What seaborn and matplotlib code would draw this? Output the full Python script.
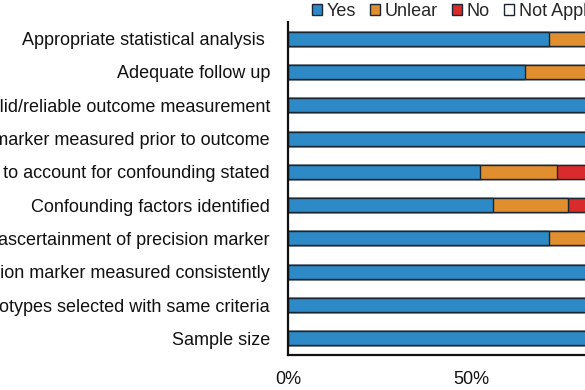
import matplotlib
matplotlib.use("Agg")
import matplotlib.pyplot as plt
import numpy as np
import pandas as pd
import seaborn as sns
from matplotlib.patches import Patch

criteria = [
    "Appropriate statistical analysis ",
    "Adequate follow up",
    "Valid/reliable outcome measurement",
    "Precision marker measured prior to outcome",
    "Method to account for confounding stated",
    "Confounding factors identified",
    "Valid ascertainment of precision marker",
    "Precision marker measured consistently",
    "Phenotypes selected with same criteria",
    "Sample size",
]
yes = [71.4, 64.8, 100, 100, 52.5, 56.1, 71.3, 100, 100, 100]
unclear = [28.6, 35.2, 0, 0, 21.1, 20.3, 28.7, 0, 0, 0]
no = [0, 0, 0, 0, 26.4, 23.6, 0, 0, 0, 0]
not_applicable = [0, 0, 0, 0, 0, 0, 0, 0, 0, 0]

categories = ["Yes", "Unlear", "No", "Not Applicable"]
colors = ["#2E8AC6", "#E08E2E", "#D92B2B", "#FFFFFF"]
edge = "#1B2633"

df = pd.DataFrame({"criterion": criteria, "Yes": yes, "Unlear": unclear,
                   "No": no, "Not Applicable": not_applicable})
cum = df[categories].cumsum(axis=1)
cum["criterion"] = df["criterion"]

sns.set_style("white")
plt.rcParams["font.family"] = ["Liberation Sans", "DejaVu Sans"]

fig = plt.figure(figsize=(5.85, 3.9), dpi=100)
ax = fig.add_axes([288 / 585, 35 / 390, 366 / 585, 333 / 390])

# draw from the back: full stack first, then shorter ones on top
for cat, col in reversed(list(zip(categories, colors))):
    sns.barplot(data=cum, x=cat, y="criterion", orient="h", color=col,
                width=0.42, edgecolor=edge, linewidth=1.0, saturation=1, ax=ax)

ax.set_xlim(0, 100)
ax.set_ylim(9.5, -0.5)
ax.set_xticks([0, 50, 100])
ax.set_xticklabels(["0%", "50%", "100%"])
ax.set_xlabel("")
ax.set_ylabel("")
ax.tick_params(axis="both", length=0, labelsize=13, colors="#111111")
ax.tick_params(axis="y", pad=13)
ax.tick_params(axis="x", pad=11.5)
for s in ["top", "right"]:
    ax.spines[s].set_visible(False)
for s in ["left", "bottom"]:
    ax.spines[s].set_color("#111111")
    ax.spines[s].set_linewidth(1.6)

handles = [Patch(facecolor=c, edgecolor=edge, linewidth=1.0) for c in colors]
fig.legend(handles, categories, loc="center left",
           bbox_to_anchor=(312 / 585, 1 - 11 / 390), ncol=4, frameon=False,
           fontsize=13, handlelength=0.55, handleheight=0.55,
           handletextpad=0.25, columnspacing=0.8, borderpad=0, borderaxespad=0)

fig.savefig("out.png", dpi=100)
